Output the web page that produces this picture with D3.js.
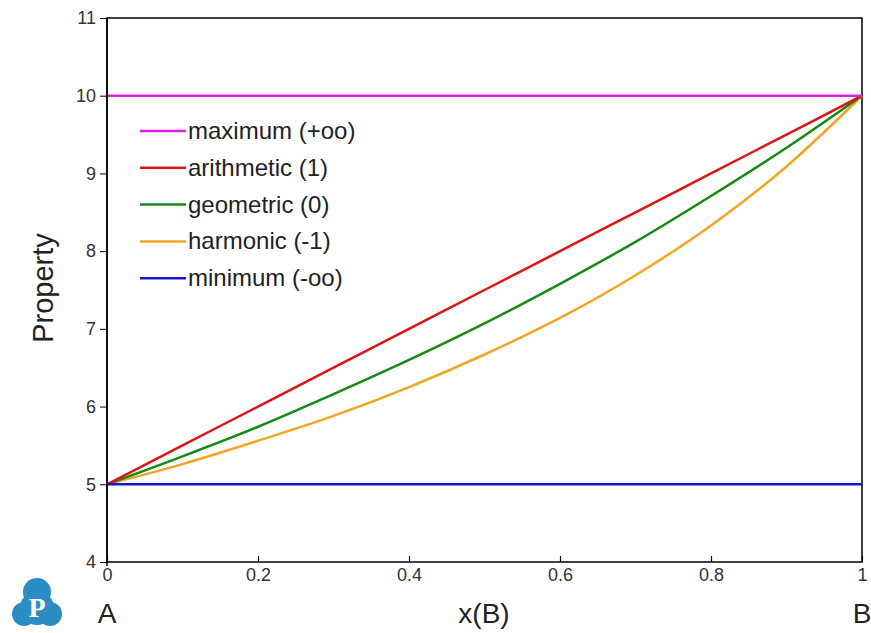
<!DOCTYPE html>
<html>
<head>
<meta charset="utf-8">
<script src="https://cdn.jsdelivr.net/npm/d3@7"></script>
<style>
body { margin: 0; background: #fff; }
text { font-family: "Liberation Sans", Arial, sans-serif; }
</style>
</head>
<body>
<script>
var xs = [0, 0.1, 0.2, 0.3, 0.4, 0.5, 0.6, 0.7, 0.8, 0.9, 1];
var maximum = [10, 10, 10, 10, 10, 10, 10, 10, 10, 10, 10];
var arithmetic = [5, 5.5, 6, 6.5, 7, 7.5, 8, 8.5, 9, 9.5, 10];
var geometric = [5, 5.36, 5.74, 6.16, 6.6, 7.07, 7.58, 8.12, 8.71, 9.33, 10];
var harmonic = [5, 5.26, 5.56, 5.88, 6.25, 6.67, 7.14, 7.69, 8.33, 9.09, 10];
var minimum = [5, 5, 5, 5, 5, 5, 5, 5, 5, 5, 5];
var names = ["maximum (+oo)", "arithmetic (1)", "geometric (0)", "harmonic (-1)", "minimum (-oo)"];
var colors = ["#e020e0", "#dd1515", "#158a15", "#f2a623", "#1515d0"];
var xTicks = [0, 0.2, 0.4, 0.6, 0.8, 1];
var yTicks = [4, 5, 6, 7, 8, 9, 10, 11];

var series = [maximum, arithmetic, geometric, harmonic, minimum];

var W = 871, H = 633;
var pLeft = 107, pRight = 862, pTop = 18, pBottom = 562;

var svg = d3.select("body").append("svg")
  .attr("width", W).attr("height", H);

var x = d3.scaleLinear().domain([0, 1]).range([pLeft, pRight]);
var y = d3.scaleLinear().domain([4, 11]).range([pBottom, pTop]);

// frame
svg.append("rect")
  .attr("x", pLeft).attr("y", pTop)
  .attr("width", pRight - pLeft).attr("height", pBottom - pTop)
  .attr("fill", "none").attr("stroke", "#000").attr("stroke-width", 1.5);

var line = d3.line()
  .x((d, i) => x(xs[i]))
  .y(d => y(d))
  .curve(d3.curveMonotoneX);

// draw curves (min/max last so they sit on top)
[3, 2, 1, 0, 4].forEach(function(k) {
  svg.append("path")
    .attr("d", line(series[k]))
    .attr("fill", "none")
    .attr("stroke", colors[k])
    .attr("stroke-width", 2.5);
});

// y axis
var yAxis = svg.append("g")
  .attr("transform", "translate(" + pLeft + ",0)")
  .call(d3.axisLeft(y).tickValues(yTicks).tickSize(7).tickPadding(4).tickFormat(d3.format("d")));
yAxis.select(".domain").attr("d", "M0," + pTop + "V" + (pBottom + 4)).attr("stroke-width", 1.5);
yAxis.selectAll("text").style("font-size", "18px").attr("fill", "#333");

// x axis
var xAxis = svg.append("g")
  .attr("transform", "translate(0," + pBottom + ")")
  .call(d3.axisBottom(x).tickValues(xTicks).tickSize(0).tickPadding(6).tickFormat(d => d));
xAxis.select(".domain").remove();
xAxis.selectAll(".tick line").attr("y2", -6).attr("stroke-width", 1.2);
xAxis.selectAll("text").style("font-size", "18px").attr("fill", "#333");

// axis labels
svg.append("text")
  .attr("transform", "translate(53,288) rotate(-90)")
  .attr("text-anchor", "middle")
  .style("font-size", "29px").attr("fill", "#222")
  .text("Property");

svg.append("text")
  .attr("x", 484).attr("y", 623)
  .attr("text-anchor", "middle")
  .style("font-size", "28px").attr("fill", "#222")
  .text("x(B)");

svg.append("text")
  .attr("x", x(0)).attr("y", 623)
  .attr("text-anchor", "middle")
  .style("font-size", "28px").attr("fill", "#222")
  .text("A");

svg.append("text")
  .attr("x", x(1)).attr("y", 623)
  .attr("text-anchor", "middle")
  .style("font-size", "28px").attr("fill", "#222")
  .text("B");

// legend
var legend = svg.selectAll("g.leg")
  .data(names).enter().append("g")
  .attr("class", "leg")
  .attr("transform", (d, i) => "translate(140," + (131 + i * 36.8) + ")");
legend.append("line")
  .attr("x1", 0).attr("x2", 46)
  .attr("stroke", (d, i) => colors[i])
  .attr("stroke-width", 2.5);
legend.append("text")
  .attr("x", 48).attr("y", 8)
  .style("font-size", "24px").attr("fill", "#222")
  .text(d => d);

// logo
var logo = svg.append("g").attr("transform", "translate(37,604)");
var blue = "#2b8dc4";
logo.append("circle").attr("cx", 0).attr("cy", -12).attr("r", 14).attr("fill", blue);
logo.append("circle").attr("cx", -13).attr("cy", 10).attr("r", 12).attr("fill", blue);
logo.append("circle").attr("cx", 13).attr("cy", 10).attr("r", 12).attr("fill", blue);
logo.append("circle").attr("cx", 0).attr("cy", 4).attr("r", 17).attr("fill", blue);
logo.append("text")
  .attr("x", 0).attr("y", 13)
  .attr("text-anchor", "middle")
  .style("font-size", "28px").attr("font-weight", "bold")
  .style("font-family", "Liberation Serif, DejaVu Serif, serif")
  .attr("fill", "#fff")
  .text("P");
</script>
</body>
</html>
